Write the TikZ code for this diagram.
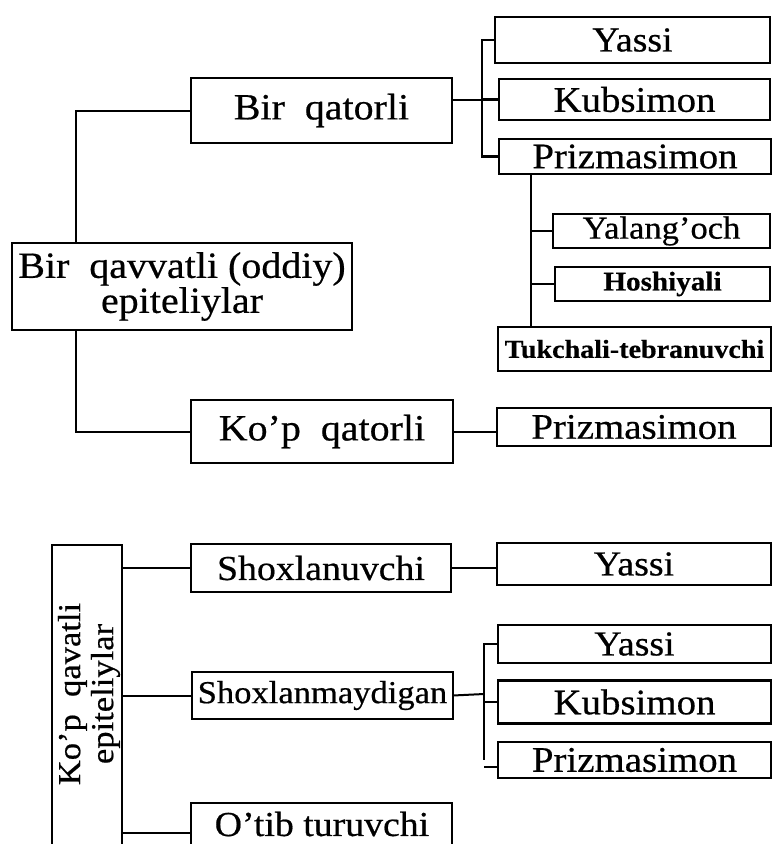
\documentclass[tikz,border=0pt]{standalone}
\usepackage{fontspec}
\setmainfont{Liberation Serif}[FakeStretch=1.08, FakeBold=0.5]
\newcommand\fs[1]{\fontsize{#1}{#1}\selectfont}
\tikzset{
  box/.style={draw=black, line width=2.8pt, inner sep=0pt, outer sep=0pt, fill=white},
  conn/.style={draw=black, line width=2pt},
  thickconn/.style={draw=black, line width=2.8pt},
}
\begin{document}
\begin{tikzpicture}[x=1pt,y=-1pt]
\useasboundingbox (0,0) rectangle (773,844);
\clip (0,0) rectangle (773,844);
\fill[white] (0,0) rectangle (773,844);

% coordinates for brackets
\coordinate (brA) at (482,100);
\coordinate (pv) at (531,0);
\coordinate (brB) at (484,694);

% upper tree
\node[box, minimum width=340, minimum height=87, align=center, font=\fontsize{37}{35}\selectfont] (birqav) at (182,286.5) {Bir\ \ qavvatli (oddiy)\\epiteliylar};
\node[box, minimum width=261, minimum height=65, font=\fs{37}] (birq) at (321.5,110.5) {Bir\ \ qatorli};
\node[box, minimum width=262, minimum height=63, font=\fs{37}] (kopq) at (322,431.5) {Ko’p\ \ qatorli};

\node[box, minimum width=275, minimum height=46, font=\fs{35}] (yassiA) at (632.5,40) {Yassi};
\node[box, minimum width=271, minimum height=41, font=\fs{36}] (kubA) at (634.5,99.5) {Kubsimon};
\node[box, minimum width=272, minimum height=35, font=\fs{36}] (prizA) at (635,156.5) {Prizmasimon};
\node[box, minimum width=217, minimum height=34, font=\fs{32}] (yal) at (661.5,231) {Yalang’och};
\node[box, minimum width=215, minimum height=34, font=\bfseries\fs{27}] (hosh) at (662.5,284) {Hoshiyali};
\node[box, minimum width=273, minimum height=44, font=\bfseries\fs{26}] (tuk) at (634.5,349) {Tukchali-tebranuvchi};
\node[box, minimum width=274, minimum height=38, font=\fs{36}] (prizB) at (634,427) {Prizmasimon};

% upper connectors
\draw[conn] (birq.west) -| (birqav.north -| 76,0);
\draw[conn] (birqav.south -| 76,0) |- (kopq.west);
\draw[thickconn] (birq.east |- brA) -- (brA);
\draw[thickconn] (yassiA.west) -| (prizA.west -| brA) -- (prizA.west);
\draw[thickconn] (kubA.west) -- (kubA.west -| brA);
\draw[conn] (prizA.south -| pv) -- (tuk.north -| pv);
\draw[conn] (yal.west) -- (yal.west -| pv);
\draw[conn] (hosh.west) -- (hosh.west -| pv);
\draw[conn] (kopq.east) -- (kopq.east -| prizB.west);

% lower tree
\node[box, anchor=north, minimum width=70, minimum height=330] (kopqav) at (87,545) {};
\node[rotate=90, align=center, inner sep=0pt, font=\fontsize{32}{33}\selectfont] (kopqavtxt) at (89,694) {Ko’p\ \ qavatli\\epiteliylar};

\node[box, minimum width=260, minimum height=48, font=\fs{35}] (shoxl) at (321,568) {Shoxlanuvchi};
\node[box, minimum width=274, minimum height=42, font=\fs{35}] (yassiB) at (634,564) {Yassi};
\node[box, minimum width=261, minimum height=47, font=\fs{32}] (shoxm) at (322.5,695.5) {Shoxlanmaydigan};
\node[box, minimum width=273, minimum height=38, font=\fs{35}] (yassiC) at (634.5,644) {Yassi};
\node[box, minimum width=273, minimum height=43, font=\fs{36}] (kubC) at (634.5,702) {Kubsimon};
\node[box, minimum width=273, minimum height=36, font=\fs{36}] (prizC) at (634.5,760) {Prizmasimon};
\node[box, anchor=north, minimum width=261, minimum height=80] (otib) at (321.5,803) {};
\node[inner sep=0pt, font=\fs{35}] (otibtxt) at (322,824) {O’tib turuvchi};

% lower connectors
\draw[conn] (shoxl.west -| kopqav.east) -- (shoxl.west);
\draw[conn] (shoxl.east) -- (shoxl.east -| yassiB.west);
\draw[conn] (shoxm.west -| kopqav.east) -- (shoxm.west);
\draw[conn] (otibtxt.west -| kopqav.east) ++(0,9) coordinate (oa) -- (oa -| otib.west);
\draw[conn] (shoxm.east) -- (brB);
\draw[conn] (yassiC.west) -| (prizC.west -| brB) ++(0,7) coordinate (pb) -- (pb -| prizC.west);
\draw[conn] (kubC.west) -- (kubC.west -| brB);
\end{tikzpicture}
\end{document}
